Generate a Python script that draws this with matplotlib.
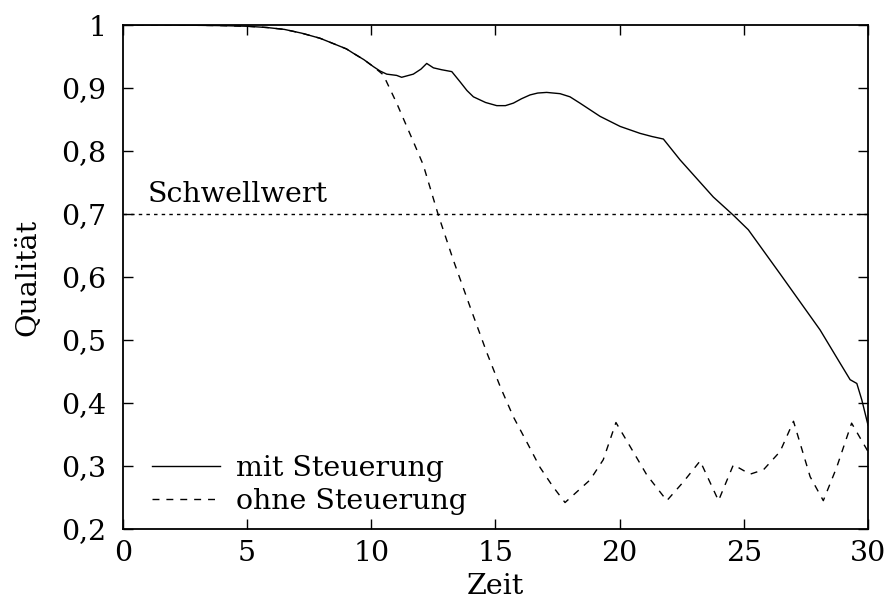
import matplotlib
matplotlib.use("Agg")
import matplotlib.pyplot as plt
from matplotlib.ticker import FuncFormatter

plt.rcParams['font.family'] = ['DejaVu Serif']

# Qualitaet ueber der Zeit, mit und ohne Steuerung
t_mit = [0, 2, 4, 5, 5.8, 6.5, 7.2, 7.93, 8.5, 9.0, 9.28, 9.7, 10.08, 10.35,
         10.62, 11.02, 11.22, 11.69, 12.0, 12.23, 12.5, 12.83, 13.24, 13.57,
         13.85, 14.11, 14.6, 15.05, 15.4, 15.72, 16.05, 16.39, 16.7, 17.06, 17.6,
         18.0, 18.4, 19.21, 20.02, 20.82, 21.3, 21.76, 22.43, 23.77, 24.58,
         25.18, 26.46, 28.07, 28.88, 29.28, 29.55, 29.75, 30]
q_mit = [1.0, 1.0, 0.999, 0.998, 0.996, 0.993, 0.987, 0.979, 0.97, 0.962,
         0.955, 0.945, 0.934, 0.927, 0.922, 0.92, 0.917, 0.922, 0.93, 0.939,
         0.932, 0.929, 0.926, 0.91, 0.896, 0.886, 0.877, 0.872, 0.872, 0.876,
         0.883, 0.889, 0.892, 0.893, 0.891, 0.886, 0.876, 0.855, 0.839, 0.828,
         0.823, 0.819, 0.786, 0.727, 0.698, 0.675, 0.605, 0.516, 0.463, 0.437,
         0.431, 0.405, 0.365]

t_ohne = [0, 2, 4, 5, 5.8, 6.5, 7.2, 7.93, 8.5, 9.0, 9.28, 9.7, 10.08, 10.48,
          11.02, 11.69, 12.09, 12.7, 13.3, 14.0, 14.65, 15.2, 15.72, 16.3, 16.79,
          17.3, 17.8, 18.81, 19.34, 19.85, 20.42, 21.09, 21.9, 22.57, 23.24,
          23.98, 24.58, 25.25, 25.79, 26.46, 27.0, 27.67, 28.2, 28.74, 29.34, 30]
q_ohne = [1.0, 1.0, 0.999, 0.998, 0.996, 0.993, 0.987, 0.979, 0.97, 0.962,
          0.955, 0.945, 0.934, 0.921, 0.876, 0.815, 0.778, 0.698, 0.627, 0.55,
          0.48, 0.425, 0.378, 0.335, 0.298, 0.268, 0.242, 0.278, 0.31, 0.369,
          0.331, 0.286, 0.245, 0.275, 0.308, 0.245, 0.302, 0.287, 0.294, 0.323,
          0.371, 0.283, 0.245, 0.298, 0.368, 0.323]

schwellwert = 0.7
x_ticks = [0, 5, 10, 15, 20, 25, 30]
y_ticks = [0.2, 0.3, 0.4, 0.5, 0.6, 0.7, 0.8, 0.9, 1.0]

fs = 20.5

fig = plt.figure(figsize=(8.95, 6.06), dpi=100)
ax = fig.add_axes([123 / 895, 77 / 606, 745 / 895, 504 / 606])

ax.plot(t_mit, q_mit, color="black", lw=1.0, label="mit Steuerung")
ax.plot(t_ohne, q_ohne, color="black", lw=1.0, dashes=(5, 5), label="ohne Steuerung")
ax.axhline(schwellwert, color="black", lw=1.0, dashes=(2.5, 3))
ax.text(1.0, schwellwert + 0.01, "Schwellwert", fontsize=fs, va="bottom", ha="left")

ax.set_xlim(0, 30)
ax.set_ylim(0.2, 1.0)
ax.set_xticks(x_ticks)
ax.set_yticks(y_ticks)
ax.yaxis.set_major_formatter(FuncFormatter(lambda v, p: ("%g" % round(v, 2)).replace(".", ",")))
ax.tick_params(direction="in", length=7, width=1.0, labelsize=fs,
               top=True, right=True)
ax.tick_params(axis="y", pad=12)
ax.tick_params(axis="x", pad=8)
for s in ax.spines.values():
    s.set_linewidth(1.3)

ax.set_xlabel("Zeit", fontsize=fs, labelpad=4)
ax.set_ylabel("Qualität", fontsize=fs, labelpad=14)

ax.legend(loc="lower left", frameon=False, fontsize=fs, handlelength=2.4,
          handletextpad=0.55, borderaxespad=0.1, labelspacing=0.2,
          bbox_to_anchor=(0.02, 0.0))

fig.savefig("out.png", dpi=100)
